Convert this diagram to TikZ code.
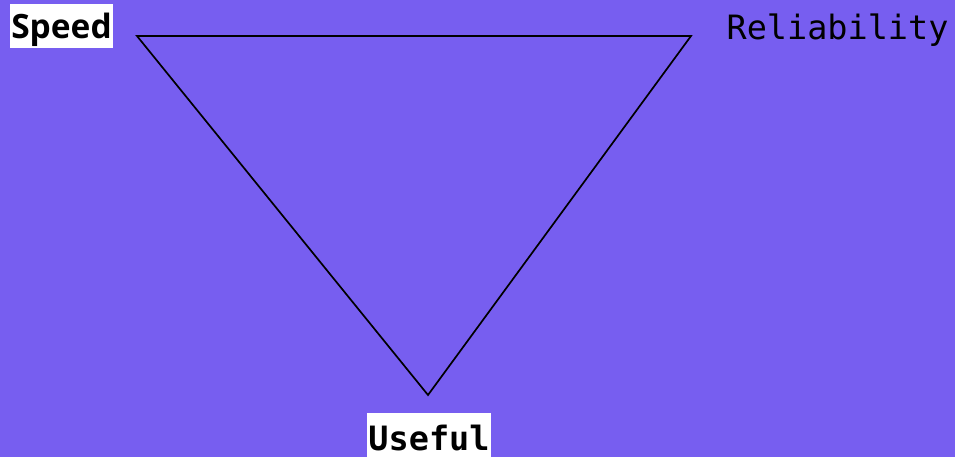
\documentclass[tikz,border=0pt]{standalone}
\usepackage{fontspec}
\newfontfamily\speedfont{Open Sans}
\newfontfamily\monofont{DejaVu Sans Mono}
\definecolor{bgpurple}{RGB}{119,94,240}
\begin{document}
\begin{tikzpicture}[x=1pt,y=-1pt,
  whitelabel/.style={fill=white,inner sep=0pt,text=black},
  plainlabel/.style={inner sep=0pt,text=black,anchor=base}]
\fill[bgpurple] (0,0) rectangle (955,457);
\useasboundingbox (0,0) rectangle (955,457);
\coordinate (A) at (137,36);
\coordinate (B) at (691,36);
\coordinate (C) at (428,395);
\draw[black,line width=1.7pt,line join=miter] (A) -- (B) -- (C) -- cycle;
\node[whitelabel,minimum width=103pt,text height=34.5pt,text depth=9.5pt,anchor=base] (speed) at (61.5,39) {\speedfont\bfseries\fontsize{33.5}{38}\selectfont Speed};
\node[plainlabel] (rel) at (837.5,40) {\monofont\fontsize{33.5}{38}\selectfont Reliability};
\node[whitelabel,minimum width=124pt,text height=37pt,text depth=8pt,anchor=base] (useful) at (429,450) {\monofont\bfseries\fontsize{33.5}{38}\selectfont Useful};
\end{tikzpicture}
\end{document}
